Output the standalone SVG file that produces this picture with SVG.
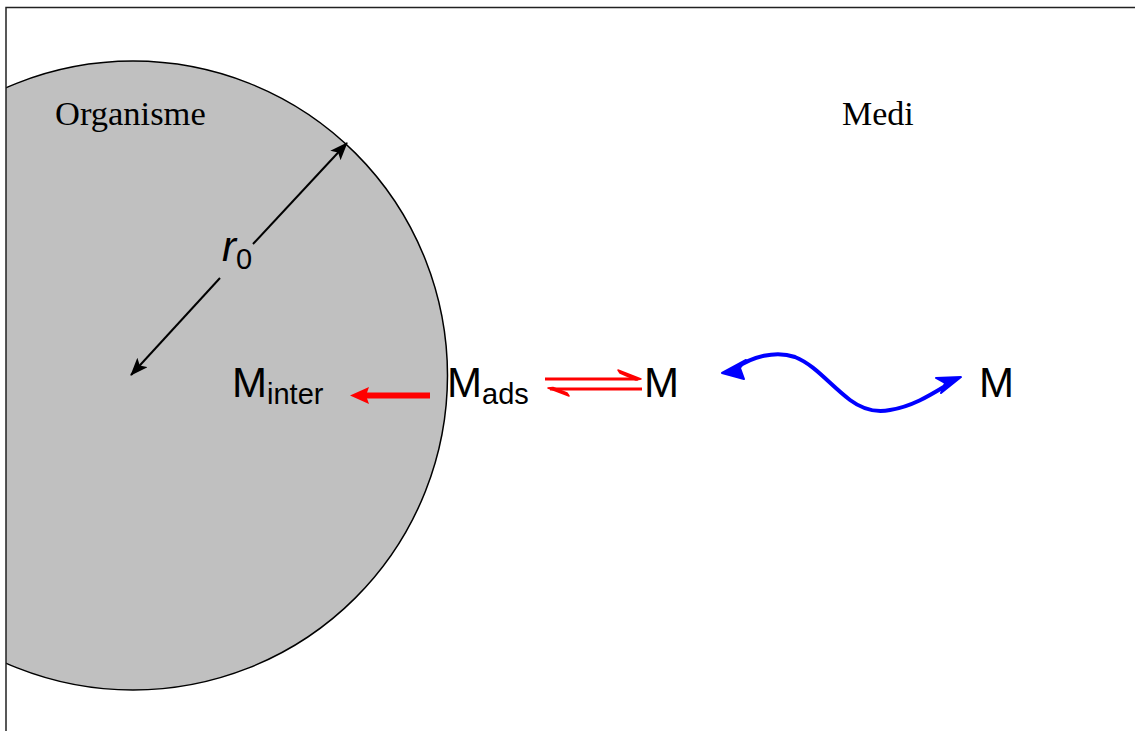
<svg xmlns="http://www.w3.org/2000/svg" width="1135" height="731" viewBox="0 0 1135 731">
<style>
.sans{font-family:"Liberation Sans",Arial,sans-serif;fill:#000}
.serif{font-family:"Liberation Serif","Times New Roman",serif;fill:#000}
.big{font-size:42px}
.sub{font-size:29px}
</style>
<defs>
<clipPath id="frame"><rect x="6" y="7.5" width="1140" height="730"/></clipPath>
<marker id="blk" markerWidth="18" markerHeight="14" refX="17" refY="7" orient="auto-start-reverse" markerUnits="userSpaceOnUse" viewBox="0 0 18 14">
<path d="M0,0 L18,7 L0,14 L4,7 Z" fill="#000"/>
</marker>
</defs>
<rect width="1135" height="731" fill="#fff"/>
<g id="organisme">
<circle cx="133" cy="375.5" r="314.5" fill="#c0c0c0" stroke="#000" stroke-width="1.5" clip-path="url(#frame)"/>
<text class="serif" x="55" y="125" font-size="34.5">Organisme</text>
</g>
<rect x="6" y="7.5" width="1140" height="730" fill="none" stroke="#222" stroke-width="1.5"/>
<g id="medi"><text class="serif" x="842" y="125" font-size="34">Medi</text></g>
<g id="radius">
<line x1="220" y1="278" x2="131" y2="375" stroke="#000" stroke-width="2" marker-end="url(#blk)" />
<line x1="253" y1="244" x2="347" y2="143" stroke="#000" stroke-width="2" marker-end="url(#blk)"/>
<text class="sans" x="222" y="261" font-size="42" font-style="italic">r<tspan font-size="29" font-style="normal" dy="8">0</tspan></text>
</g>
<g id="minter"><text class="sans big" x="232" y="397">M<tspan class="sub" dy="7">inter</tspan></text></g>
<g id="mads"><text class="sans big" x="447" y="397">M<tspan class="sub" dy="7">ads</tspan></text></g>
<g id="m1"><text class="sans big" x="644" y="397">M</text></g>
<g id="m2"><text class="sans big" x="979" y="397">M</text></g>
<g id="connectors">
<line x1="430" y1="395.5" x2="366" y2="395.5" stroke="#f00" stroke-width="6"/>
<polygon points="350,395.5 369,387 366,395.5 369,404" fill="#f00"/>
<line x1="545" y1="379" x2="638" y2="379" stroke="#f00" stroke-width="3"/>
<polygon points="641,379 618,370 620,373 636,380" fill="#f00" stroke="#f00" stroke-width="1.5" stroke-linejoin="round"/>
<line x1="550" y1="389" x2="642" y2="389" stroke="#f00" stroke-width="3"/>
<polygon points="548,388 569,396 567,393 553,387.5" fill="#f00" stroke="#f00" stroke-width="1.5" stroke-linejoin="round"/>
<path d="M736,368 C752,357 775,350 795,357 C815,365 830,385 850,400 C862,409 875,413 890,410 C915,406 935,392 952,382" fill="none" stroke="#00f" stroke-width="4" stroke-linecap="round"/>
<polygon points="722,373 746,360 740,368 744,379" fill="#00f" stroke="#00f" stroke-width="2" stroke-linejoin="round"/>
<polygon points="961,377 936,378 945,383 941,393" fill="#00f" stroke="#00f" stroke-width="2" stroke-linejoin="round"/>
</g>
</svg>
